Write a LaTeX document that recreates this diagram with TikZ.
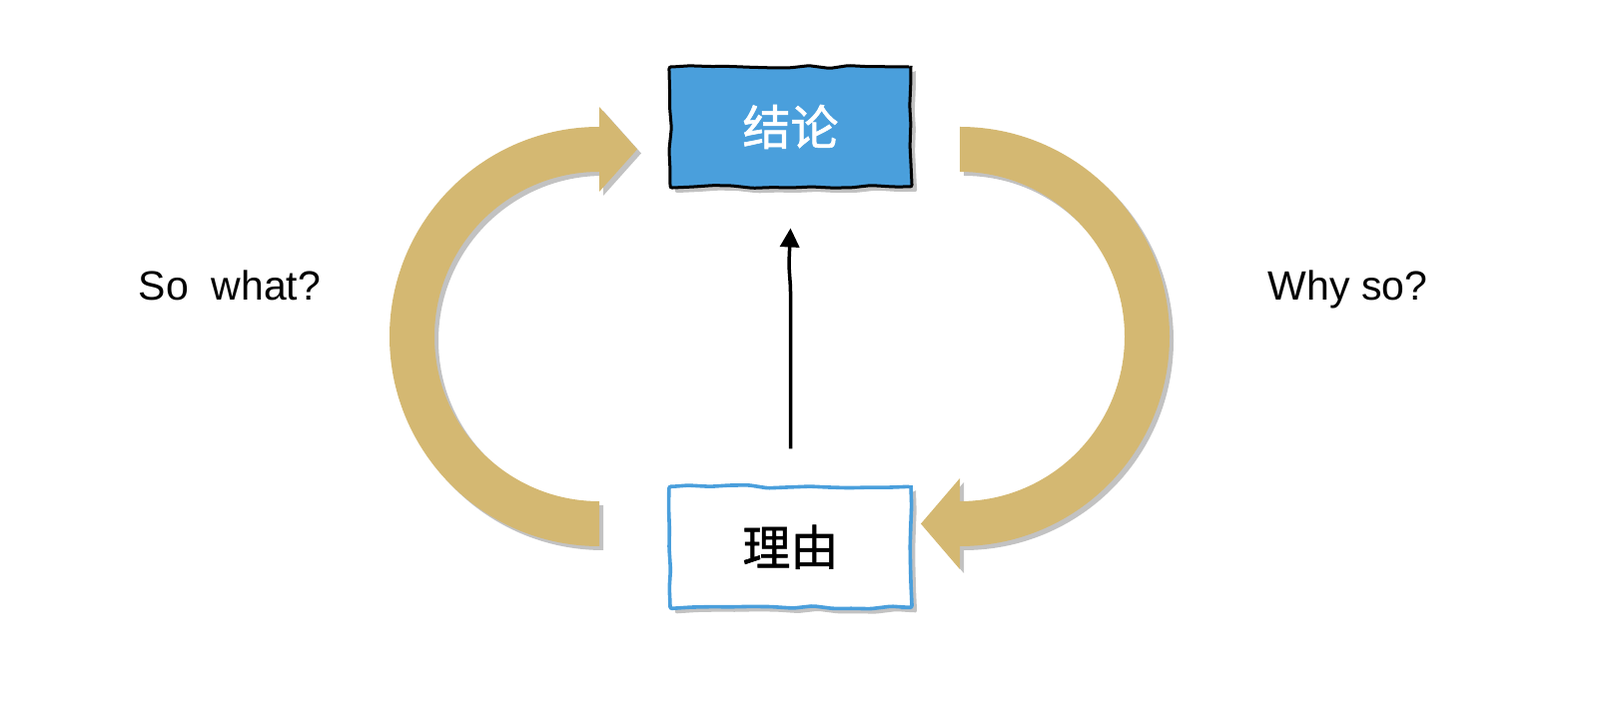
\documentclass[tikz,border=0pt]{standalone}
\usepackage{fontspec}
\setmainfont{Liberation Sans}
\newfontfamily\cjk[FakeBold=1.2]{Noto Sans CJK SC}
\usetikzlibrary{arrows.meta, positioning, shadows, decorations.pathmorphing}
\definecolor{blueA}{HTML}{4A9FDC}
\definecolor{tanA}{HTML}{D4B872}
\definecolor{grayA}{HTML}{C2C2C2}
\tikzset{
  sketchbox/.style={
    draw=#1, line width=3pt, minimum width=241pt, minimum height=120pt,
    inner sep=0pt, font=\cjk\fontsize{48}{52}\selectfont,
    decorate, decoration={random steps, segment length=20pt, amplitude=1.5pt},
    rounded corners=2pt,
    drop shadow={shadow xshift=5pt, shadow yshift=-5pt, fill=grayA, opacity=1}
  },
  band/.style={
    fill=tanA,
    drop shadow={shadow xshift=4pt, shadow yshift=-4pt, fill=grayA, opacity=1}
  },
  arrow/.style={-{Triangle[length=19pt, width=19pt]}, line width=3.5pt},
  question/.style={font=\fontsize{41}{45}\selectfont, anchor=base}
}

\begin{document}
\begin{tikzpicture}[x=1pt, y=1pt]
  \useasboundingbox (0,0) rectangle (1602,714);

  \node[sketchbox=black, fill=blueA, text=white] (concl) at (791.5,587) {结论};
  \node[sketchbox=blueA, fill=white, line width=3.6pt, below=297pt of concl,
    minimum width=241pt, minimum height=121pt] (reason) {理由};

  \coordinate (lc) at (600,377);
  \coordinate (rc) at (961,377);

  % left band: So what?
  \path[band, shift={(lc)}] (0,210) arc[start angle=90, end angle=270, radius=210]
    -- (0,-165) arc[start angle=270, end angle=90, radius=165]
    -- (0,145) -- (38,187.5) -- (0,230) -- cycle;
  % right band: Why so?
  \path[band, shift={(rc)}] (0,210) arc[start angle=90, end angle=-90, radius=210]
    -- (0,-233) -- (-39,-187.5) -- (0,-142)
    -- (0,-165) arc[start angle=-90, end angle=90, radius=165] -- cycle;

  \draw[arrow] ([yshift=36pt]reason.north) -- ++(0,157)
    .. controls +(0,10) and +(0,-10) .. ++(-1.5,30)
    -- ([yshift=-40pt]concl.south);

  \node[question] (sowhat) at (230,413) {So\ \ what?};
  \node[question] (whyso) at (1349.5,413) {Why so?};
\end{tikzpicture}
\end{document}
